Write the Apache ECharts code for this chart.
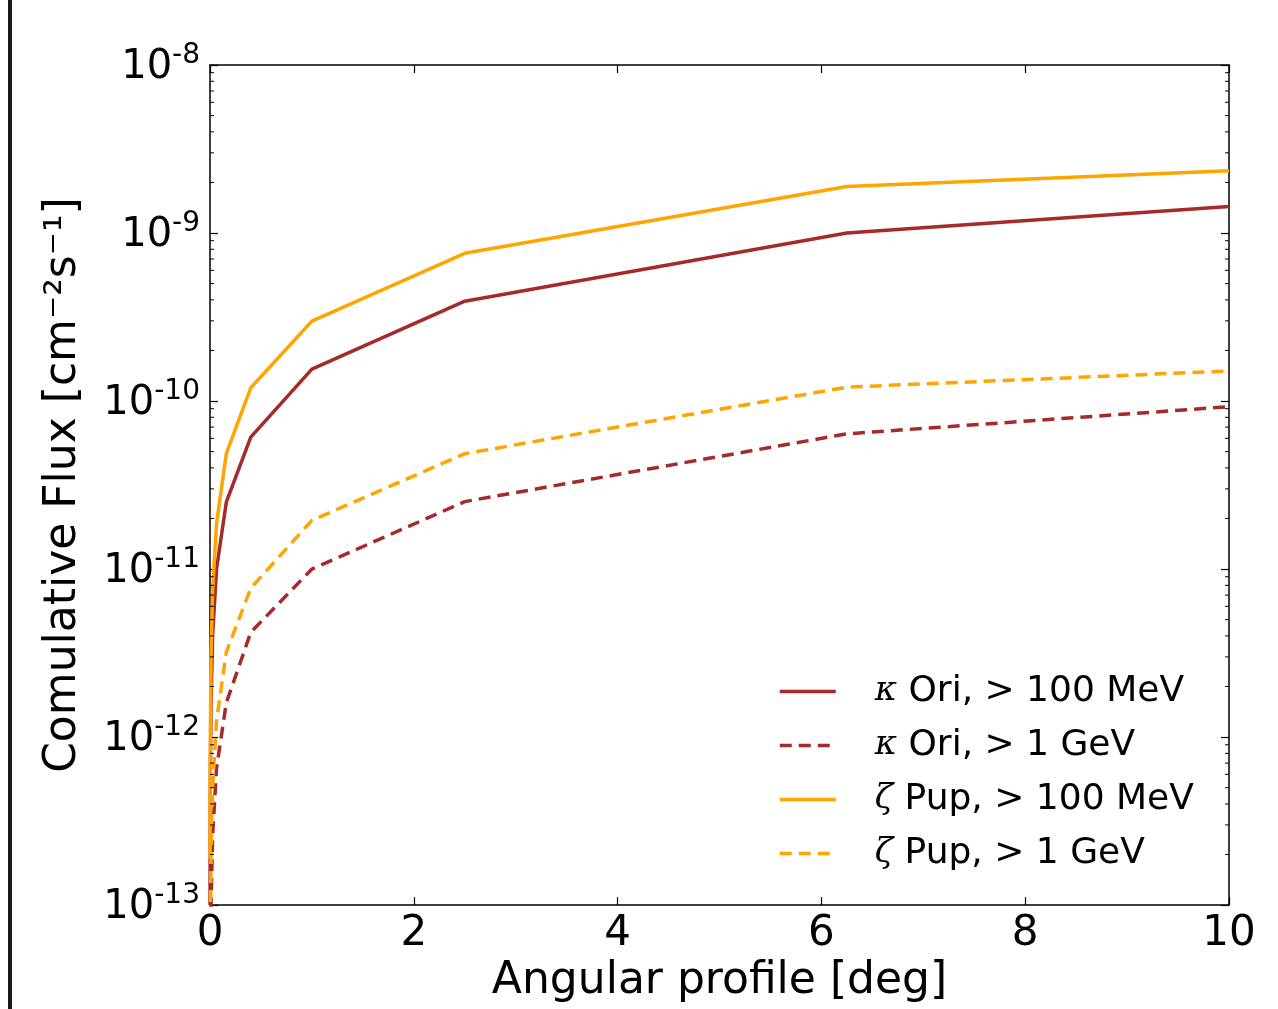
<!DOCTYPE html>
<html>
<head>
<meta charset="utf-8">
<script src="https://cdn.jsdelivr.net/npm/echarts@6/dist/echarts.min.js"></script>
<style>
html,body{margin:0;padding:0;background:#fff;}
#chart{width:1278px;height:1009px;}
</style>
</head>
<body>
<div id="chart"></div>
<script>
// Angular radius [deg]
const angles = [0.00066, 0.00164, 0.0041, 0.01024, 0.0256, 0.064, 0.16, 0.4, 1.0, 2.5, 6.25, 10];
// Cumulative flux [cm^-2 s^-1]
const kOri100MeV = [1.0e-13, 2.6e-13, 6.5e-13, 1.6e-12, 4.0e-12, 1.0e-11, 2.5e-11, 6.1e-11, 1.55e-10, 3.93e-10, 1.0e-9, 1.44e-9];
const kOri1GeV   = [7.0e-15, 1.7e-14, 4.2e-14, 1.0e-13, 2.6e-13, 6.5e-13, 1.6e-12, 4.2e-12, 1.0e-11, 2.52e-11, 6.38e-11, 9.25e-11];
const zPup100MeV = [1.9e-13, 4.8e-13, 1.2e-12, 3.0e-12, 7.5e-12, 1.87e-11, 4.86e-11, 1.2e-10, 2.99e-10, 7.57e-10, 1.89e-9, 2.35e-9];
const zPup1GeV   = [1.3e-14, 3.2e-14, 8.0e-14, 2.0e-13, 5.0e-13, 1.25e-12, 3.2e-12, 7.7e-12, 1.95e-11, 4.86e-11, 1.21e-10, 1.51e-10];
const seriesNames = ['κ Ori, > 100 MeV', 'κ Ori, > 1 GeV', 'ζ Pup, > 100 MeV', 'ζ Pup, > 1 GeV'];
const xTicks = [0, 2, 4, 6, 8, 10];
const yMin = 1e-13, yMax = 1e-8;

const RED = '#a52a2a', ORANGE = '#ffa500';
const FONT = 'DejaVu Sans';

// minor log ticks 2..9 x 10^e
const minorTicks = [];
for (let e = -13; e <= -9; e++) for (let m = 2; m <= 9; m++) minorTicks.push(m * Math.pow(10, e));

function pairs(ys) { return angles.map((a, i) => [a, ys[i]]); }

function lineSeries(name, ys, color, dashed) {
  return {
    name: name, type: 'line', data: pairs(ys), symbol: 'none', showSymbol: false, clip: true,
    lineStyle: { color: color, width: 3.5, type: dashed ? [12, 7] : 'solid' },
    itemStyle: { color: color },
    emphasis: { disabled: true }, animation: false, z: 3
  };
}

const chart = echarts.init(document.getElementById('chart'), null, { renderer: 'canvas' });

const yLabelRich = {
  b: { fontFamily: FONT, fontSize: 40, color: '#000', lineHeight: 46, verticalAlign: 'bottom' },
  s: { fontFamily: FONT, fontSize: 28, color: '#000', lineHeight: 46, verticalAlign: 'top' }
};

const legendRich = {
  sp: { width: 34 },
  g: { fontFamily: 'DejaVu Serif', fontStyle: 'italic', fontSize: 34, color: '#000' },
  t: { fontFamily: FONT, fontSize: 36, color: '#000' }
};

chart.setOption({
  animation: false,
  backgroundColor: '#fff',
  grid: { left: 210, right: 49, top: 65, bottom: 101, containLabel: false },
  graphic: [{ type: 'rect', left: 8, top: 0, shape: { width: 4, height: 1009 }, style: { fill: '#1a1a1a' }, silent: true }],
  xAxis: [{
    type: 'value', min: 0, max: 10, interval: 2,
    name: 'Angular profile [deg]', nameLocation: 'middle', nameGap: 53,
    nameTextStyle: { fontFamily: FONT, fontSize: 44, color: '#000' },
    axisLine: { show: true, onZero: false, lineStyle: { color: '#000', width: 1.5 } },
    axisTick: { show: true, inside: true, length: 8, lineStyle: { color: '#000', width: 1.2 } },
    axisLabel: { fontFamily: FONT, fontSize: 42, color: '#000', margin: 8, customValues: xTicks },
    splitLine: { show: false }
  }, {
    type: 'value', min: 0, max: 10, interval: 2, position: 'top',
    axisLine: { show: true, onZero: false, lineStyle: { color: '#000', width: 1.5 } },
    axisTick: { show: true, inside: true, length: 8, lineStyle: { color: '#000', width: 1.2 } },
    axisLabel: { show: false }, splitLine: { show: false }
  }],
  yAxis: [{
    type: 'log', logBase: 10, min: yMin, max: yMax,
    name: 'Comulative Flux [cm⁻²s⁻¹]', nameLocation: 'middle', nameGap: 124, nameRotate: 90,
    nameTextStyle: { fontFamily: FONT, fontSize: 44, color: '#000' },
    axisLine: { show: true, onZero: false, lineStyle: { color: '#000', width: 1.5 } },
    axisTick: { show: true, inside: true, length: 8, lineStyle: { color: '#000', width: 1.2 } },
    axisLabel: {
      margin: 10,
      formatter: function (v) { return '{b|10}{s|' + Math.round(Math.log10(v)) + '}'; },
      rich: yLabelRich
    },
    splitLine: { show: false }
  }, {
    type: 'log', logBase: 10, min: yMin, max: yMax, position: 'right',
    axisLine: { show: true, onZero: false, lineStyle: { color: '#000', width: 1.5 } },
    axisTick: { show: true, inside: true, length: 8, lineStyle: { color: '#000', width: 1.2 } },
    axisLabel: { show: false }, splitLine: { show: false }
  }],
  legend: {
    data: seriesNames,
    orient: 'vertical', left: 773, top: 668,
    itemWidth: 56, itemHeight: 14, itemGap: 17,
    selectedMode: false,
    itemStyle: { opacity: 0 },
    lineStyle: { width: 3.5 },
    formatter: function (name) {
      const sym = name.charAt(0);
      return '{sp|}{g|' + sym + '}{t|' + name.slice(1) + '}';
    },
    textStyle: { rich: legendRich, fontSize: 36, lineHeight: 37 }
  },
  series: [
    lineSeries(seriesNames[0], kOri100MeV, RED, false),
    lineSeries(seriesNames[1], kOri1GeV, RED, true),
    lineSeries(seriesNames[2], zPup100MeV, ORANGE, false),
    lineSeries(seriesNames[3], zPup1GeV, ORANGE, true),
    {
      type: 'custom', name: 'minorTicks', silent: true, z: 5,
      data: minorTicks.map(v => [0, v]),
      renderItem: function (params, api) {
        const v = api.value(1);
        const pl = api.coord([0, v]);
        const pr = api.coord([10, v]);
        return {
          type: 'group', children: [
            { type: 'line', shape: { x1: pl[0], y1: pl[1], x2: pl[0] + 4, y2: pl[1] }, style: { stroke: '#000', lineWidth: 1 } },
            { type: 'line', shape: { x1: pr[0] - 4, y1: pr[1], x2: pr[0], y2: pr[1] }, style: { stroke: '#000', lineWidth: 1 } }
          ]
        };
      },
      clip: false
    }
  ]
});
</script>
</body>
</html>
